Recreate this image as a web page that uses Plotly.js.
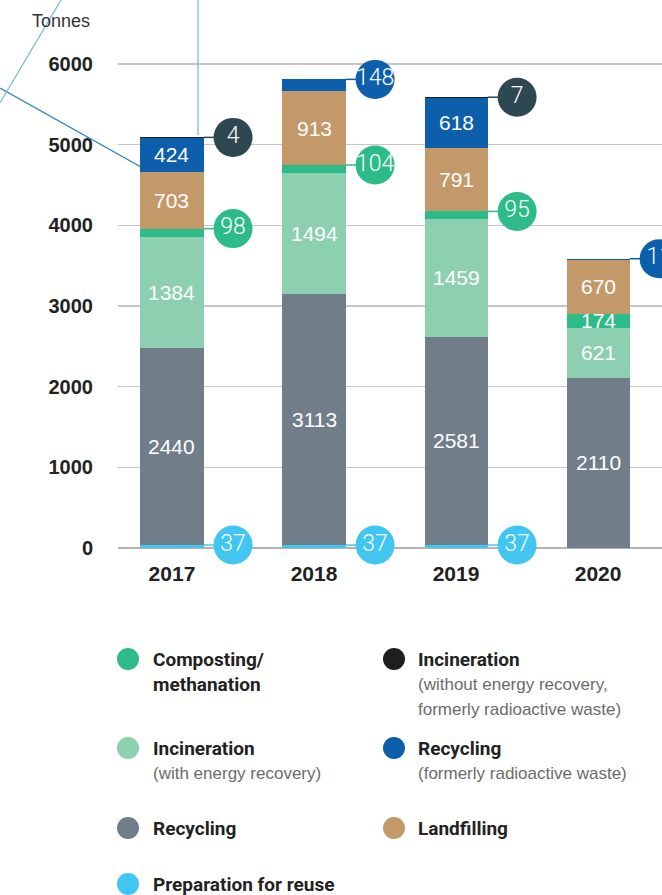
<!DOCTYPE html>
<html>
<head>
<meta charset="utf-8">
<script src="https://cdn.plot.ly/plotly-3.0.1.min.js"></script>
<style>html,body{margin:0;padding:0;background:#fff;}#chart{width:662px;height:895px;}</style>
</head>
<body>
<div id="chart"></div>
<script>
// ---- data ----
const years = ['2017', '2018', '2019', '2020'];
const prepReuse      = [37, 37, 37, 0];
const recycling      = [2440, 3113, 2581, 2110];
const incinEnergy    = [1384, 1494, 1459, 621];
const composting     = [98, 104, 95, 174];
const landfilling    = [703, 913, 791, 670];
const recyclingRadio = [424, 148, 618, 11];
const incinNoEnergy  = [4, 0, 7, 0];
const yTicks = [0, 1000, 2000, 3000, 4000, 5000, 6000];

// ---- styling ----
const series = [
  {name: 'Preparation for reuse', vals: prepReuse, color: '#41c6f1', bubble: '#41c6f1'},
  {name: 'Recycling', vals: recycling, color: '#717d89', bubble: '#717d89'},
  {name: 'Incineration (with energy recovery)', vals: incinEnergy, color: '#8dcfb1', bubble: '#8dcfb1'},
  {name: 'Composting/methanation', vals: composting, color: '#2dbb89', bubble: '#2dbb89'},
  {name: 'Landfilling', vals: landfilling, color: '#c4996a', bubble: '#c4996a'},
  {name: 'Recycling (formerly radioactive waste)', vals: recyclingRadio, color: '#0d5eab', bubble: '#0d5eab'},
  {name: 'Incineration (without energy recovery)', vals: incinNoEnergy, color: '#1e1e1e', bubble: '#2e4852'}
];
const BAR_W = 0.444, BUBBLE_DX = 0.43, LABEL_MIN = 160;
const PLOT_L = 118, PLOT_W = 544, PLOT_H = 548;
const px = x => (x - PLOT_L) / PLOT_W;
const py = y => (PLOT_H - y) / PLOT_H;

const idx = years.map((_, i) => i);
const traces = [];
const annotations = [];
const bubbleX = [], bubbleY = [], bubbleT = [], bubbleC = [];
const base = idx.map(() => 0);

series.forEach(s => {
  traces.push({
    type: 'bar', x: idx, y: s.vals, width: BAR_W, name: s.name,
    marker: {color: s.color, line: {width: 0}}, hoverinfo: 'skip', showlegend: false
  });
  s.vals.forEach((v, i) => {
    const lo = base[i], hi = base[i] + v;
    if (v >= LABEL_MIN) {
      annotations.push({x: i, y: (lo + hi) / 2, xref: 'x', yref: 'y', text: String(v), showarrow: false,
        font: {family: 'Liberation Sans, Arial, sans-serif', size: 21, color: '#ffffff'}});
    } else if (v > 0) {
      traces.push({type: 'scatter', mode: 'lines', x: [i + BAR_W / 2, i + BUBBLE_DX], y: [hi, hi],
        line: {color: s.bubble, width: 1.5}, hoverinfo: 'skip', showlegend: false, cliponaxis: false});
      bubbleX.push(i + BUBBLE_DX); bubbleY.push(hi); bubbleT.push(String(v)); bubbleC.push(s.bubble);
    }
    base[i] = hi;
  });
});

traces.push({
  type: 'scatter', mode: 'markers+text', x: bubbleX, y: bubbleY, text: bubbleT,
  textposition: 'middle center', cliponaxis: false, hoverinfo: 'skip', showlegend: false,
  marker: {size: 39, color: bubbleC, line: {width: 0}},
  textfont: {family: 'Roboto, Liberation Sans, sans-serif', size: 23, color: '#ffffff', weight: 300}
});

// ---- axis unit label ----
annotations.push({x: px(92), y: py(21), xref: 'paper', yref: 'paper', xanchor: 'right', yanchor: 'middle',
  text: 'Tonnes', showarrow: false, font: {family: 'Liberation Sans, Arial, sans-serif', size: 18, color: '#333333'}});

// ---- legend (custom two-column) ----
const boldFont = {family: 'Liberation Sans Narrow, Roboto, Liberation Sans, sans-serif', size: 19, color: '#222222', weight: 700};
const subFont = {family: 'Liberation Sans, Arial, sans-serif', size: 17, color: '#6b6b6b'};
const legendItems = [
  {cx: 128, tx: 151, y: 659, color: '#2dbb89', lines: [['Composting/', 'b'], ['methanation', 'b']]},
  {cx: 128, tx: 151, y: 748, color: '#8dcfb1', lines: [['Incineration', 'b'], ['(with energy recovery)', 's']]},
  {cx: 128, tx: 151, y: 828, color: '#717d89', lines: [['Recycling', 'b']]},
  {cx: 128, tx: 151, y: 884, color: '#41c6f1', lines: [['Preparation for reuse', 'b']]},
  {cx: 394, tx: 416, y: 659, color: '#1e1e1e', lines: [['Incineration', 'b'], ['(without energy recovery,', 's'], ['formerly radioactive waste)', 's']]},
  {cx: 394, tx: 416, y: 748, color: '#0d5eab', lines: [['Recycling', 'b'], ['(formerly radioactive waste)', 's']]},
  {cx: 394, tx: 416, y: 828, color: '#c4996a', lines: [['Landfilling', 'b']]}
];
const shapes = [];
legendItems.forEach(it => {
  shapes.push({type: 'circle', xref: 'paper', yref: 'paper', xsizemode: 'pixel', ysizemode: 'pixel',
    xanchor: px(it.cx), yanchor: py(it.y), x0: -11, x1: 11, y0: -11, y1: 11,
    fillcolor: it.color, line: {width: 0}});
  it.lines.forEach((ln, k) => {
    annotations.push({x: px(it.tx), y: py(it.y + k * 25), xref: 'paper', yref: 'paper', xanchor: 'left', yanchor: 'middle',
      text: ln[0], showarrow: false, font: ln[1] === 'b' ? boldFont : subFont});
  });
});

// ---- decorative leader lines (top-left) ----
shapes.push({type: 'line', xref: 'paper', yref: 'paper', x0: px(0), y0: py(88), x1: px(141), y1: py(167), line: {color: '#2a82b3', width: 1.3}});
shapes.push({type: 'line', xref: 'paper', yref: 'paper', x0: px(0), y0: py(103), x1: px(61), y1: py(0), line: {color: '#79bcdb', width: 1.3}});
shapes.push({type: 'line', xref: 'paper', yref: 'paper', x0: px(198), y0: py(0), x1: px(198), y1: py(135), line: {color: '#79bcdb', width: 1.3}});

const layout = {
  width: 662, height: 895,
  margin: {l: PLOT_L, r: 0, t: 0, b: 895 - PLOT_H},
  paper_bgcolor: '#ffffff', plot_bgcolor: '#ffffff',
  barmode: 'stack', showlegend: false,
  xaxis: {type: 'linear', range: [-0.38, 3.45], tickvals: idx, ticktext: years, showgrid: false, zeroline: false,
    showline: false, ticks: '', ticklabelstandoff: 11, fixedrange: true,
    tickfont: {family: 'Liberation Sans, Arial, sans-serif', size: 21, color: '#222222', weight: 700}},
  yaxis: {range: [0, 6793], tickvals: yTicks, showgrid: true, gridcolor: '#c6c6c6', gridwidth: 1.5,
    zeroline: true, zerolinecolor: '#b3b3b3', zerolinewidth: 2, showline: false, ticks: '',
    ticklabelstandoff: 24, fixedrange: true,
    tickfont: {family: 'Liberation Sans, Arial, sans-serif', size: 20, color: '#222222', weight: 700}},
  annotations: annotations,
  shapes: shapes
};

Plotly.newPlot('chart', traces, layout, {displayModeBar: false, staticPlot: true});
</script>
</body>
</html>
